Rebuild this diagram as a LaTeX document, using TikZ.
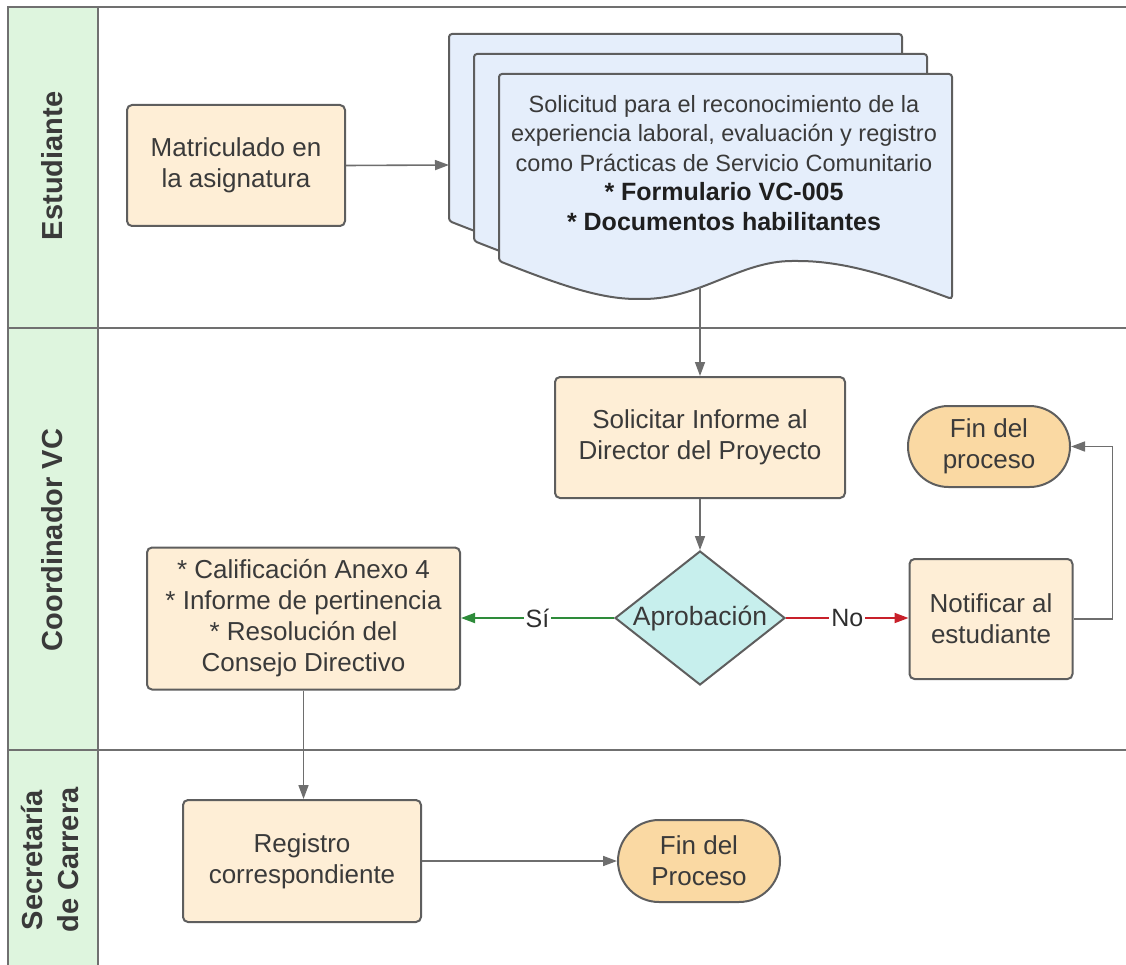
\documentclass[tikz,border=0pt]{standalone}
\usepackage{fontspec}
\setmainfont{Liberation Sans}
\usetikzlibrary{arrows.meta,shapes.geometric,shapes.misc}
\definecolor{boxfill}{RGB}{254,238,214}
\definecolor{termfill}{RGB}{250,217,163}
\definecolor{decfill}{RGB}{199,239,237}
\definecolor{docfill}{RGB}{229,238,251}
\definecolor{hdrfill}{RGB}{222,245,222}
\definecolor{bordc}{RGB}{94,94,94}
\definecolor{arrc}{RGB}{110,110,110}
\definecolor{lanec}{RGB}{112,112,112}
\definecolor{txtc}{RGB}{58,58,58}
\definecolor{yesc}{RGB}{46,139,58}
\definecolor{noc}{RGB}{200,32,42}
\begin{document}
\begin{tikzpicture}[x=1pt,y=-1pt,
  lane/.style={draw=lanec,line width=2pt},
  hdr/.style={rotate=90,font=\bfseries\fontsize{29}{36}\selectfont,text=txtc,align=center},
  proc/.style={draw=bordc,fill=boxfill,line width=2pt,rounded corners=5pt,align=center,text=txtc,
    font=\fontsize{26}{31}\selectfont,inner sep=0pt},
  term/.style={draw=bordc,fill=termfill,line width=2pt,rounded rectangle,align=center,text=txtc,
    font=\fontsize{26}{31}\selectfont,inner sep=0pt},
  dec/.style={draw=bordc,fill=decfill,line width=2pt,diamond,inner sep=0pt},
  sheet/.style={draw=bordc,fill=docfill,line width=2pt,rounded corners=3pt},
  arr/.style={draw=arrc,line width=1.6pt,-{Triangle[length=14pt,width=10pt]}},
  yes/.style={draw=yesc,line width=1.8pt,-{Triangle[length=14pt,width=10pt]}},
  no/.style={draw=noc,line width=1.8pt,-{Triangle[length=14pt,width=10pt]}},
  lbl/.style={fill=white,inner sep=2pt,text=txtc!80!black,font=\fontsize{25}{28}\selectfont}]
\useasboundingbox (0,0) rectangle (1126,965);
% swimlanes
\fill[hdrfill] (8,7) rectangle (98,965);
\draw[lane] (1126,7) -- (8,7) -- (8,965);
\draw[lane] (98,7) -- (98,965);
\draw[lane] (8,328) -- (1126,328);
\draw[lane] (8,750) -- (1126,750);
\node[hdr] (h1) at (52,166) {Estudiante};
\node[hdr] (h2) at (52,540) {Coordinador VC};
\node[hdr] (h3) at (50,860) {Secretaría\\de Carrera};
% document stack
\foreach \dx/\dy in {-50/-40,-25/-20,0/0}{
  \begin{scope}[shift={(\dx,\dy)}]
  \path[sheet] (499,261) -- (499,74) -- (952,74) -- (952,299)
    .. controls (900,280) and (850,261) .. (795,261)
    .. controls (740,261) and (700,299) .. (640,299)
    .. controls (600,299) and (560,285) .. (499,261) -- cycle;
  \end{scope}}
\node[align=center,text=txtc,font=\fontsize{23.5}{29.5}\selectfont] (doctxt) at (724,163)
  {Solicitud para el reconocimiento de la\\experiencia laboral, evaluación y registro\\como Prácticas de Servicio Comunitario\\
   {\color{black!88}\bfseries\fontsize{25}{29.5}\selectfont * Formulario VC-005}\\
   {\color{black!88}\bfseries\fontsize{25}{29.5}\selectfont * Documentos habilitantes}};
\coordinate (docl) at (449,165);
\coordinate (docb) at (700,287);
% process nodes
\node[proc,minimum width=218pt,minimum height=121pt] (mat) at (236,165.5) {Matriculado en\\la asignatura};
\node[proc,minimum width=290pt,minimum height=121pt] (sol) at (700,437.5) {Solicitar Informe al\\Director del Proyecto};
\node[dec,minimum width=170pt,minimum height=134pt] (apr) at (700,618) {};
\node[text=txtc,font=\fontsize{26.5}{31}\selectfont] (aprt) at (apr.center) {Aprobación};
\node[proc,minimum width=313pt,minimum height=142pt] (cal) at (303.5,618.5)
  {* Calificación Anexo 4\\* Informe de pertinencia\\* Resolución del\\Consejo Directivo};
\node[proc,minimum width=163pt,minimum height=120pt] (not) at (991,619) {Notificar al\\estudiante};
\node[term,minimum width=162pt,minimum height=81pt] (fin1) at (989,446.5) {Fin del\\proceso};
\node[proc,minimum width=238pt,minimum height=122pt] (reg) at (302,861) {Registro\\correspondiente};
\node[term,minimum width=162pt,minimum height=82pt] (fin2) at (699,861) {Fin del\\Proceso};
% connectors
\draw[arr] (mat.east) -- (docl);
\draw[arr] (docb) -- (sol.north);
\draw[arr] (sol.south) -- (apr.north);
\draw[yes] (apr.west) -- node[lbl] {Sí} (apr.west -| cal.east);
\draw[no] (apr.east) -- node[lbl] {No} (apr.east -| not.west);
\draw[arr] (not.east) -- ++(39,0) |- (fin1.east);
\draw[arr] (cal.south) -- (cal.south |- reg.north);
\draw[arr] (reg.east) -- (fin2.west);
\end{tikzpicture}
\end{document}
